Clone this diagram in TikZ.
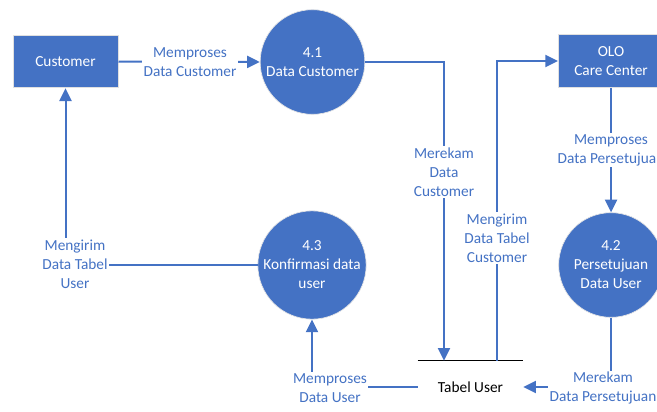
\documentclass[tikz,border=0pt]{standalone}
\usepackage{fontspec}
\setmainfont{Carlito}
\usetikzlibrary{arrows.meta}
\definecolor{dfdblue}{HTML}{4472C4}
\newcommand{\dfdfont}{\fontsize{11.5}{14.25}\selectfont}

\begin{document}
\begin{tikzpicture}[x=0.75pt,y=-0.75pt,
  entity/.style={rectangle, fill=dfdblue, draw=black!12, line width=0.75pt, minimum width=78.75pt, minimum height=39.5pt, text=white, align=center, font=\dfdfont},
  process/.style={circle, fill=dfdblue, draw=black!10, line width=0.5pt, minimum size=78.5pt, inner sep=0pt, text=white, align=center, font=\dfdfont},
  datastore/.style={minimum width=78.75pt, minimum height=39pt, inner sep=0pt, font=\dfdfont},
  flow/.style={dfdblue, line width=1.5pt, -{Triangle[length=9.5pt,width=9pt]}},
  flowlabel/.style={fill=white, text=dfdblue, align=center, inner sep=1pt, font=\dfdfont}]
\useasboundingbox (0,0) rectangle (657,411);
\node[entity] (cust) at (65.5,61.5) {Customer};
\node[entity] (olo) at (611,61) {OLO\\Care Center};
\node[process] (p41) at (312.5,62) {4.1\\Data Customer};
\node[process] (p43) at (312,265) {4.3\\Konfirmasi data\\user};
\node[process] (p42) at (611,265) {4.2\\Persetujuan\\Data User};
\node[datastore] (store) at (470.5,387) {Tabel User};
\draw[black, line width=0.75pt] (store.north west) -- (store.north east);
\draw[flow] (cust.east) -- (p41.west);
\draw[flow] (p41.east) -| ([xshift=-19.9pt]store.north);
\draw[flow] ([xshift=19.9pt]store.north) |- (olo.west);
\draw[flow] (olo.south) -- (p42.north);
\draw[flow] (p42.south) |- (store.east);
\draw[flow] (store.west) -| (p43.south);
\draw[flow] (p43.west) -| (cust.south);
\node[flowlabel] (l1) at (190,62) {Memproses\\Data Customer};
\node[flowlabel] (l2) at (444,172) {Merekam\\Data\\Customer};
\node[flowlabel] (l3) at (497,238) {Mengirim\\Data Tabel\\Customer};
\node[flowlabel] (l4) at (611,150) {Memproses\\Data Persetujuan};
\node[flowlabel] (l5) at (603,388) {Merekam\\Data Persetujuan};
\node[flowlabel] (l6) at (330,388) {Memproses\\Data User};
\node[flowlabel] (l7) at (75,264) {Mengirim\\Data Tabel\\User};
\end{tikzpicture}
\end{document}
